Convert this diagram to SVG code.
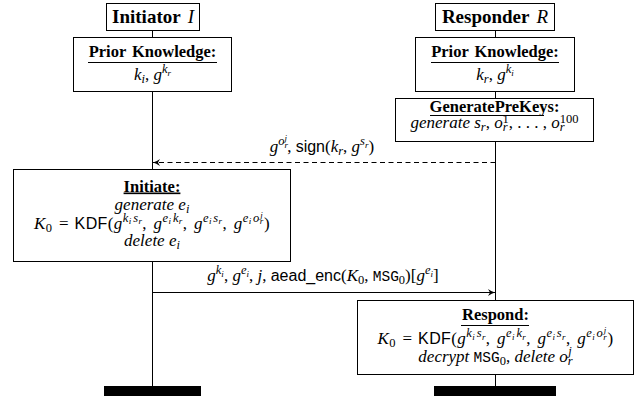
<svg xmlns="http://www.w3.org/2000/svg" width="638" height="398" viewBox="0 0 638 398">
<style>
.box{fill:#fff;stroke:#000;stroke-width:1}
.ln{stroke:#000;stroke-width:1;fill:none}
.t{font-family:"Liberation Serif",serif;font-size:17px;fill:#000}
.kdf{letter-spacing:0.4px}
.hd{font-family:"Liberation Serif",serif;font-size:19px;font-weight:bold;fill:#000}
.ttl{font-family:"Liberation Serif",serif;font-size:16.5px;font-weight:bold;fill:#000}
.mi{font-weight:normal;font-style:italic}
.i{font-style:italic}
.sp{font-size:12.5px}
.ss{font-size:9px}
.sf{font-family:"Liberation Sans",sans-serif;font-size:16px}
.tt{font-family:"Liberation Mono",monospace;font-size:14.5px}
</style>
<defs>
<marker id="ah" markerWidth="10" markerHeight="10" refX="8" refY="5" orient="auto" markerUnits="userSpaceOnUse">
<path d="M1,1.5 Q5,4.5 8,5 Q5,5.5 1,8.5 L3,5 Z" fill="#000"/>
</marker>
</defs>
<g id="lifelines">
<line class="ln" x1="152.5" y1="30" x2="152.5" y2="386"/>
<line class="ln" x1="495.5" y1="30" x2="495.5" y2="386"/>
</g>
<g id="initiator">
<rect class="box" x="106.5" y="3.5" width="93" height="27"/>
<text x="153" y="22.5" class="hd" text-anchor="middle">Initiator<tspan class="mi" dx="7">I</tspan></text>
</g>
<g id="responder">
<rect class="box" x="435.5" y="3.5" width="119" height="27"/>
<text x="495" y="22.5" class="hd" text-anchor="middle">Responder<tspan class="mi" dx="7">R</tspan></text>
</g>
<g id="prior-i">
<rect class="box" x="73.5" y="37.5" width="158" height="54"/>
<text x="152.5" y="57" class="ttl" text-anchor="middle" word-spacing="2">Prior Knowledge:</text>
<line class="ln" x1="88" y1="62.5" x2="217" y2="62.5"/>
<text x="152.5" y="80" class="t" text-anchor="middle"><tspan class="i">k</tspan><tspan class="sp i" dy="3">i</tspan><tspan dy="-3">, </tspan><tspan class="i">g</tspan><tspan class="sp i" dy="-7">k</tspan><tspan class="ss i" dy="2.5">r</tspan></text>
</g>
<g id="prior-r">
<rect class="box" x="415.5" y="37.5" width="159" height="54"/>
<text x="495" y="57" class="ttl" text-anchor="middle" word-spacing="2">Prior Knowledge:</text>
<line class="ln" x1="431" y1="62.5" x2="559" y2="62.5"/>
<text x="495" y="80" class="t" text-anchor="middle"><tspan class="i">k</tspan><tspan class="sp i" dy="3">r</tspan><tspan dy="-3">, </tspan><tspan class="i">g</tspan><tspan class="sp i" dy="-7">k</tspan><tspan class="ss i" dy="2.5">i</tspan></text>
</g>
<g id="generateprekeys">
<rect class="box" x="395.5" y="98.5" width="198" height="43"/>
<text x="494.5" y="111.5" class="ttl" text-anchor="middle">GeneratePreKeys:</text>
<line class="ln" x1="430" y1="115.5" x2="544" y2="115.5"/>
<text x="494.5" y="128" class="t" text-anchor="middle"><tspan class="i">generate </tspan><tspan class="i">s</tspan><tspan class="sp i" dy="3">r</tspan><tspan dy="-3">, </tspan><tspan class="i">o</tspan><tspan class="sp i" dy="3">r</tspan><tspan class="sp" dx="-5" dy="-8.5">1</tspan><tspan dy="5.5">, . . . , </tspan><tspan class="i">o</tspan><tspan class="sp i" dy="3">r</tspan><tspan class="sp" dx="-5" dy="-8.5">100</tspan></text>
</g>
<g id="initiate">
<rect class="box" x="13.5" y="169.5" width="277" height="92"/>
<text x="152" y="191.5" class="ttl" text-anchor="middle" text-decoration="underline">Initiate:</text>
<text x="152" y="210" class="t" text-anchor="middle"><tspan class="i">generate </tspan><tspan class="i">e</tspan><tspan class="sp i" dy="3">i</tspan></text>
<text x="152" y="228.5" class="t kdf" text-anchor="middle"><tspan class="i">K</tspan><tspan class="sp" dy="3">0</tspan><tspan dy="-3" dx="2"> = </tspan><tspan class="sf" dx="1">KDF</tspan>(<tspan class="i">g</tspan><tspan class="sp i" dy="-7">k</tspan><tspan class="ss i" dy="2.5">i</tspan><tspan class="sp i" dy="-2.5" dx="1.5">s</tspan><tspan class="ss i" dy="2.5">r</tspan><tspan dy="4.5">, </tspan><tspan class="i" dx="2">g</tspan><tspan class="sp i" dy="-7">e</tspan><tspan class="ss i" dy="2.5">i</tspan><tspan class="sp i" dy="-2.5" dx="1.5">k</tspan><tspan class="ss i" dy="2.5">r</tspan><tspan dy="4.5">, </tspan><tspan class="i" dx="2">g</tspan><tspan class="sp i" dy="-7">e</tspan><tspan class="ss i" dy="2.5">i</tspan><tspan class="sp i" dy="-2.5" dx="1.5">s</tspan><tspan class="ss i" dy="2.5">r</tspan><tspan dy="4.5">, </tspan><tspan class="i" dx="2">g</tspan><tspan class="sp i" dy="-7">e</tspan><tspan class="ss i" dy="2.5">i</tspan><tspan class="sp i" dy="-2.5" dx="1.5">o</tspan><tspan class="ss i" dy="2.5">r</tspan><tspan class="ss i" dx="-3.5" dy="-6.5">j</tspan><tspan dy="11" dx="1">)</tspan></text>
<text x="152" y="246" class="t" text-anchor="middle"><tspan class="i">delete </tspan><tspan class="i">e</tspan><tspan class="sp i" dy="3">i</tspan></text>
</g>
<g id="respond">
<rect class="box" x="357.5" y="300.5" width="276" height="74"/>
<text x="495.5" y="320" class="ttl" text-anchor="middle">Respond:</text>
<line class="ln" x1="461" y1="325.5" x2="529" y2="325.5"/>
<text x="495.5" y="344" class="t kdf" text-anchor="middle"><tspan class="i">K</tspan><tspan class="sp" dy="3">0</tspan><tspan dy="-3" dx="2"> = </tspan><tspan class="sf" dx="1">KDF</tspan>(<tspan class="i">g</tspan><tspan class="sp i" dy="-7">k</tspan><tspan class="ss i" dy="2.5">i</tspan><tspan class="sp i" dy="-2.5" dx="1.5">s</tspan><tspan class="ss i" dy="2.5">r</tspan><tspan dy="4.5">, </tspan><tspan class="i" dx="2">g</tspan><tspan class="sp i" dy="-7">e</tspan><tspan class="ss i" dy="2.5">i</tspan><tspan class="sp i" dy="-2.5" dx="1.5">k</tspan><tspan class="ss i" dy="2.5">r</tspan><tspan dy="4.5">, </tspan><tspan class="i" dx="2">g</tspan><tspan class="sp i" dy="-7">e</tspan><tspan class="ss i" dy="2.5">i</tspan><tspan class="sp i" dy="-2.5" dx="1.5">s</tspan><tspan class="ss i" dy="2.5">r</tspan><tspan dy="4.5">, </tspan><tspan class="i" dx="2">g</tspan><tspan class="sp i" dy="-7">e</tspan><tspan class="ss i" dy="2.5">i</tspan><tspan class="sp i" dy="-2.5" dx="1.5">o</tspan><tspan class="ss i" dy="2.5">r</tspan><tspan class="ss i" dx="-3.5" dy="-6.5">j</tspan><tspan dy="11" dx="1">)</tspan></text>
<text x="495.5" y="362" class="t" text-anchor="middle"><tspan class="i">decrypt </tspan><tspan class="tt">MSG</tspan><tspan class="sp" dy="3">0</tspan><tspan dy="-3">, </tspan><tspan class="i">delete </tspan><tspan class="i">o</tspan><tspan class="sp i" dy="3">r</tspan><tspan class="sp i" dx="-4.5" dy="-10">j</tspan></text>
</g>
<g id="connectors">
<line class="ln" x1="495.5" y1="162.5" x2="153" y2="162.5" stroke-dasharray="5,3.5" marker-end="url(#ah)"/>
<text x="322" y="152" class="t" text-anchor="middle"><tspan class="i">g</tspan><tspan class="sp i" dy="-7">o</tspan><tspan class="ss i" dy="2.5">r</tspan><tspan class="ss i" dx="-3.5" dy="-6.5">j</tspan><tspan dy="11">, </tspan><tspan class="sf">sign</tspan>(<tspan class="i">k</tspan><tspan class="sp i" dy="3">r</tspan><tspan dy="-3">, </tspan><tspan class="i">g</tspan><tspan class="sp i" dy="-7">s</tspan><tspan class="ss i" dy="2.5">r</tspan><tspan dy="4.5">)</tspan></text>
<line class="ln" x1="152.5" y1="292.5" x2="495" y2="292.5" marker-end="url(#ah)"/>
<text x="323" y="281" class="t" text-anchor="middle"><tspan class="i">g</tspan><tspan class="sp i" dy="-7">k</tspan><tspan class="ss i" dy="2.5">i</tspan><tspan dy="4.5">, </tspan><tspan class="i">g</tspan><tspan class="sp i" dy="-7">e</tspan><tspan class="ss i" dy="2.5">i</tspan><tspan dy="4.5">, </tspan><tspan class="i">j</tspan>, <tspan class="sf">aead_enc</tspan>(<tspan class="i">K</tspan><tspan class="sp" dy="3">0</tspan><tspan dy="-3">, </tspan><tspan class="tt">MSG</tspan><tspan class="sp" dy="3">0</tspan><tspan dy="-3">)[</tspan><tspan class="i">g</tspan><tspan class="sp i" dy="-7">e</tspan><tspan class="ss i" dy="2.5">i</tspan><tspan dy="4.5">]</tspan></text>
</g>
<g id="end-bars">
<rect x="104" y="386" width="97" height="10" fill="#000"/>
<rect x="434" y="386" width="122" height="10" fill="#000"/>
</g>
</svg>
